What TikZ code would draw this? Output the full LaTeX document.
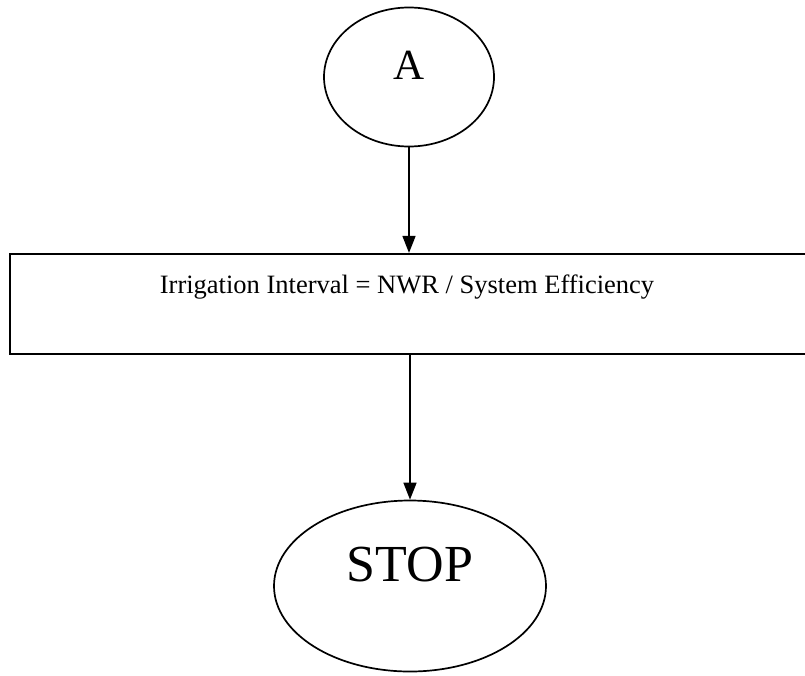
\documentclass[tikz,border=0pt]{standalone}
\usepackage{fontspec}
\setmainfont{Liberation Serif}
\usetikzlibrary{arrows.meta, positioning, shapes.geometric}

\begin{document}
\begin{tikzpicture}[x=1pt, y=-1pt,
    terminal/.style={draw, ellipse, line width=1.7pt, inner sep=0pt},
    process/.style={draw, rectangle, line width=2.2pt, inner sep=0pt},
    flow/.style={-{Triangle[length=17pt, width=13pt]}, line width=1.6pt}]
    \useasboundingbox (0,0) rectangle (805,675);

    \node (A) [terminal, minimum width=170pt, minimum height=139pt,
        label={[yshift=12pt, font=\fontsize{43}{48}\selectfont]center:A}] at (409,77) {};
    \node (calc) [process, minimum width=810pt, minimum height=100pt,
        label={[xshift=-8pt, yshift=17pt, font=\fontsize{26.5}{30}\selectfont]center:Irrigation Interval = NWR / System Efficiency}] at (415,304) {};
    \node (stop) [terminal, minimum width=272pt, minimum height=171pt,
        label={[yshift=21pt, font=\fontsize{52}{58}\selectfont]center:STOP}] at (410,586) {};

    \draw[flow] (A.south) -- (A.south |- calc.north);
    \draw[flow] (stop.north |- calc.south) -- (stop.north);
\end{tikzpicture}
\end{document}
